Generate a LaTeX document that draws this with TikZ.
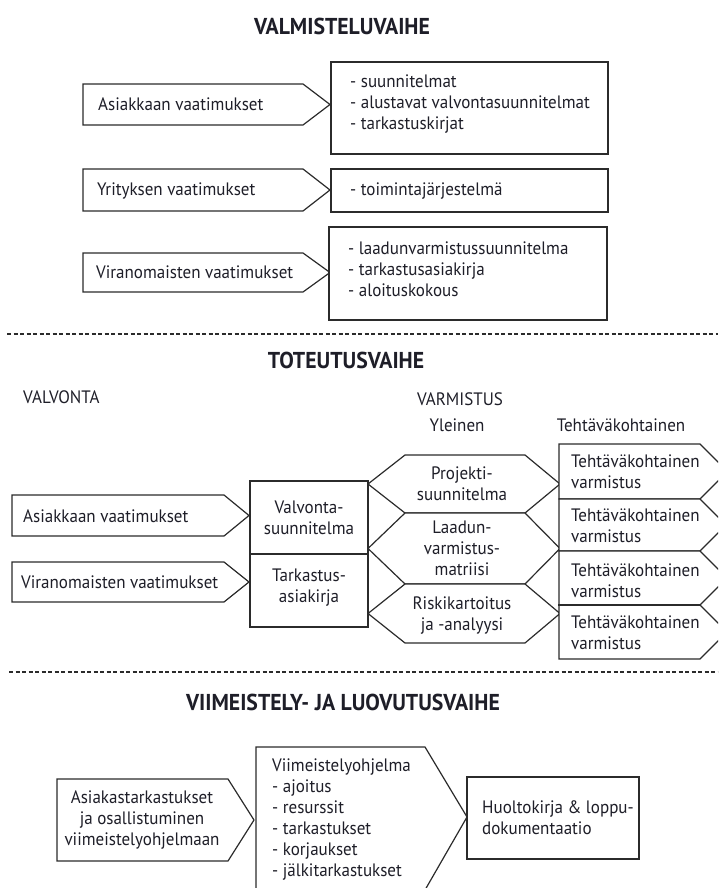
\documentclass[tikz,border=0pt]{standalone}
\usepackage{fontspec}
\setmainfont{PT Sans}[FakeStretch=0.945]
\definecolor{linecol}{HTML}{2B2B2B}
\definecolor{txtcol}{HTML}{1E1E28}
\begin{document}
\begin{tikzpicture}[x=1pt,y=-1pt,
  shp/.style={draw=linecol,line width=1.2pt,fill=white,line join=miter},
  sep/.style={draw=linecol,line width=1.1pt,dash pattern=on 4pt off 2.5pt},
  body/.style={text=txtcol,inner sep=0pt,font=\fontsize{18}{21}\selectfont},
  lbl/.style={body,anchor=west,align=left},
  ctr/.style={body,align=center},
  heading/.style={text=txtcol,inner sep=0pt,font=\fontsize{23}{26}\selectfont\bfseries}]
\useasboundingbox (0,0) rectangle (718,888);
\clip (0,0) rectangle (718,888);

% ---------- preparation phase ----------
\node[heading] (h1) at (342,26) {VALMISTELUVAIHE};

\draw[shp] (83,84) -- (303,84) -- (330,104.5) -- (303,125) -- (83,125) -- cycle;
\node[lbl] (r1) at (98,104.5) {Asiakkaan vaatimukset};
\draw[shp] (331,62) rectangle (608,154);
\node[lbl] (o1) at (350,104) {- suunnitelmat\\- alustavat valvontasuunnitelmat\\- tarkastuskirjat};

\draw[shp] (83,169) -- (303,169) -- (330,190) -- (303,211) -- (83,211) -- cycle;
\node[lbl] (r2) at (97,191) {Yrityksen vaatimukset};
\draw[shp] (331,169) rectangle (608,212);
\node[lbl] (o2) at (350,191) {- toimintajärjestelmä};

\draw[shp] (83,253) -- (303,253) -- (330,272.5) -- (303,292) -- (83,292) -- cycle;
\node[lbl] (r3) at (96,272.5) {Viranomaisten vaatimukset};
\draw[shp] (329,227) rectangle (607,320);
\node[lbl] (o3) at (348,269) {- laadunvarmistussuunnitelma\\- tarkastusasiakirja\\- aloituskokous};

\draw[sep] (7,334) -- (718,334);

% ---------- implementation phase ----------
\node[heading] (h2) at (346,360) {TOTEUTUSVAIHE};
\node[lbl] (valv) at (23,397) {VALVONTA};
\node[ctr] (varm) at (460,399) {VARMISTUS};
\node[ctr] (yl) at (457,425) {Yleinen};
\node[ctr] (teht) at (621,425) {Tehtäväkohtainen};

\draw[shp] (12,495) -- (224,495) -- (249,515.5) -- (224,536) -- (12,536) -- cycle;
\node[lbl] (m1) at (23,516) {Asiakkaan vaatimukset};
\draw[shp] (12,562) -- (224,562) -- (249,582) -- (224,602) -- (12,602) -- cycle;
\node[lbl] (m2) at (21,582) {Viranomaisten vaatimukset};

\draw[shp] (250,481) rectangle (368,554);
\node[ctr] (vs) at (309,518) {Valvonta-\\suunnitelma};
\draw[shp] (250,554) rectangle (368,627);
\node[ctr] (ta) at (309,588) {Tarkastus-\\asiakirja};

% general assurance hexagons
\draw[shp] (368,484) -- (405,455) -- (525,455) -- (560,484) -- (525,513) -- (405,513) -- cycle;
\node[ctr] (g1) at (462,484) {Projekti-\\suunnitelma};
\draw[shp] (368,548.5) -- (405,513) -- (525,513) -- (560,548.5) -- (525,584) -- (405,584) -- cycle;
\node[ctr] (g2) at (462,548) {Laadun-\\varmistus-\\matriisi};
\draw[shp] (368,613.5) -- (405,584) -- (525,584) -- (560,613.5) -- (525,643) -- (405,643) -- cycle;
\node[ctr] (g3) at (462,616) {Riskikartoitus\\ja -analyysi};

% task-specific assurance
\draw[shp] (559,444) -- (700,444) -- (727.5,471.5) -- (700,499) -- (559,499) -- cycle;
\node[lbl] (t1) at (571,472) {Tehtäväkohtainen\\varmistus};
\draw[shp] (559,499) -- (700,499) -- (726,525) -- (700,551) -- (559,551) -- cycle;
\node[lbl] (t2) at (571,526) {Tehtäväkohtainen\\varmistus};
\draw[shp] (559,551) -- (700,551) -- (727,578) -- (700,605) -- (559,605) -- cycle;
\node[lbl] (t3) at (571,581) {Tehtäväkohtainen\\varmistus};
\draw[shp] (559,605) -- (700,605) -- (727,632) -- (700,659) -- (559,659) -- cycle;
\node[lbl] (t4) at (571,633) {Tehtäväkohtainen\\varmistus};
\draw[draw=linecol,line width=2.4pt] (558,605) -- (700,605);

\draw[sep] (9,672) -- (718,672);

% ---------- finishing and handover phase ----------
\node[heading] (h3) at (343,702) {VIIMEISTELY- JA LUOVUTUSVAIHE};

\draw[shp] (57,779) -- (228,779) -- (254,820) -- (228,861) -- (57,861) -- cycle;
\node[ctr] (c1) at (142,820) {Asiakastarkastukset\\ja osallistuminen\\viimeistelyohjelmaan};
\draw[shp] (256,747) -- (425,747) -- (467,817) -- (425,890) -- (256,890) -- cycle;
\node[lbl] (c2) at (272,819.5) {Viimeistelyohjelma\\- ajoitus\\- resurssit\\- tarkastukset\\- korjaukset\\- jälkitarkastukset};
\draw[shp] (467,777) rectangle (639,859);
\node[lbl] (c3) at (482,818) {Huoltokirja \& loppu-\\dokumentaatio};
\end{tikzpicture}
\end{document}
